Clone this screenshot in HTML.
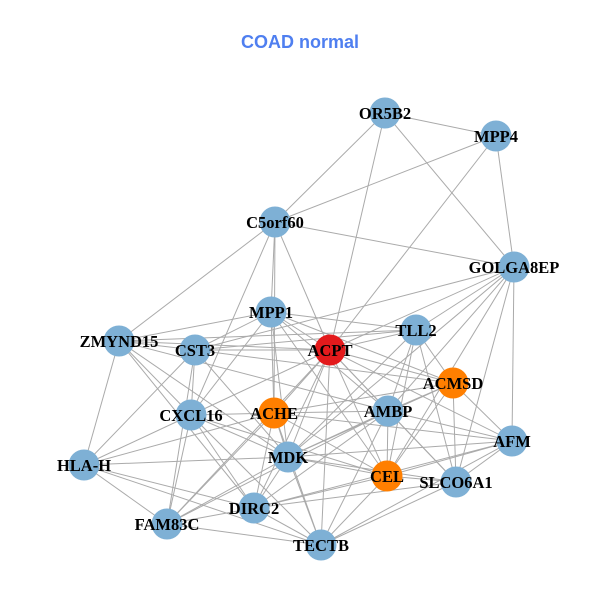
<!DOCTYPE html>
<html><head><meta charset="utf-8"><style>body{margin:0;background:#fff}svg{display:block}text.n{font-family:"Liberation Serif",serif;font-weight:bold;font-size:16.5px;text-anchor:middle}</style></head><body>
<svg width="600" height="600" xmlns="http://www.w3.org/2000/svg">
<text x="300" y="48" text-anchor="middle" font-family="Liberation Sans, sans-serif" font-weight="bold" font-size="18" fill="#4f7ff0">COAD normal</text>
<g stroke="#aaaaaa" stroke-width="1">
<line x1="385" y1="113" x2="496" y2="136"/><line x1="385" y1="113" x2="275" y2="222"/><line x1="385" y1="113" x2="330" y2="350"/><line x1="385" y1="113" x2="514" y2="267"/>
<line x1="496" y1="136" x2="275" y2="222"/><line x1="496" y1="136" x2="514" y2="267"/><line x1="496" y1="136" x2="330" y2="350"/>
<line x1="275" y1="222" x2="514" y2="267"/><line x1="275" y1="222" x2="271" y2="312"/><line x1="275" y1="222" x2="119" y2="341"/><line x1="275" y1="222" x2="330" y2="350"/><line x1="275" y1="222" x2="191" y2="415"/><line x1="275" y1="222" x2="274" y2="413"/>
<line x1="514" y1="267" x2="416" y2="330"/><line x1="514" y1="267" x2="330" y2="350"/><line x1="514" y1="267" x2="512" y2="441"/><line x1="514" y1="267" x2="456" y2="482"/><line x1="514" y1="267" x2="388" y2="411"/><line x1="514" y1="267" x2="195" y2="350"/><line x1="514" y1="267" x2="288" y2="457"/><line x1="514" y1="267" x2="387" y2="476"/>
<line x1="271" y1="312" x2="119" y2="341"/><line x1="271" y1="312" x2="195" y2="350"/><line x1="271" y1="312" x2="330" y2="350"/><line x1="271" y1="312" x2="274" y2="413"/><line x1="271" y1="312" x2="288" y2="457"/><line x1="271" y1="312" x2="191" y2="415"/><line x1="271" y1="312" x2="416" y2="330"/><line x1="271" y1="312" x2="388" y2="411"/><line x1="271" y1="312" x2="387" y2="476"/><line x1="271" y1="312" x2="453" y2="383"/>
<line x1="416" y1="330" x2="330" y2="350"/><line x1="416" y1="330" x2="453" y2="383"/><line x1="416" y1="330" x2="388" y2="411"/><line x1="416" y1="330" x2="387" y2="476"/><line x1="416" y1="330" x2="456" y2="482"/><line x1="416" y1="330" x2="195" y2="350"/><line x1="416" y1="330" x2="288" y2="457"/><line x1="416" y1="330" x2="119" y2="341"/>
<line x1="119" y1="341" x2="195" y2="350"/><line x1="119" y1="341" x2="330" y2="350"/><line x1="119" y1="341" x2="84" y2="465"/><line x1="119" y1="341" x2="191" y2="415"/><line x1="119" y1="341" x2="288" y2="457"/><line x1="119" y1="341" x2="254" y2="508"/><line x1="119" y1="341" x2="388" y2="411"/>
<line x1="195" y1="350" x2="330" y2="350"/><line x1="195" y1="350" x2="191" y2="415"/><line x1="195" y1="350" x2="84" y2="465"/><line x1="195" y1="350" x2="167" y2="524"/><line x1="195" y1="350" x2="288" y2="457"/><line x1="195" y1="350" x2="453" y2="383"/>
<line x1="330" y1="350" x2="274" y2="413"/><line x1="330" y1="350" x2="288" y2="457"/><line x1="330" y1="350" x2="388" y2="411"/><line x1="330" y1="350" x2="387" y2="476"/><line x1="330" y1="350" x2="321" y2="545"/><line x1="330" y1="350" x2="254" y2="508"/><line x1="330" y1="350" x2="167" y2="524"/><line x1="330" y1="350" x2="512" y2="441"/><line x1="330" y1="350" x2="456" y2="482"/><line x1="330" y1="350" x2="191" y2="415"/><line x1="330" y1="350" x2="453" y2="383"/>
<line x1="453" y1="383" x2="388" y2="411"/><line x1="453" y1="383" x2="512" y2="441"/><line x1="453" y1="383" x2="456" y2="482"/><line x1="453" y1="383" x2="387" y2="476"/><line x1="453" y1="383" x2="274" y2="413"/><line x1="453" y1="383" x2="288" y2="457"/>
<line x1="388" y1="411" x2="274" y2="413"/><line x1="388" y1="411" x2="288" y2="457"/><line x1="388" y1="411" x2="387" y2="476"/><line x1="388" y1="411" x2="321" y2="545"/><line x1="388" y1="411" x2="512" y2="441"/><line x1="388" y1="411" x2="254" y2="508"/><line x1="388" y1="411" x2="456" y2="482"/><line x1="388" y1="411" x2="167" y2="524"/>
<line x1="191" y1="415" x2="274" y2="413"/><line x1="191" y1="415" x2="288" y2="457"/><line x1="191" y1="415" x2="84" y2="465"/><line x1="191" y1="415" x2="167" y2="524"/><line x1="191" y1="415" x2="254" y2="508"/><line x1="191" y1="415" x2="321" y2="545"/><line x1="191" y1="415" x2="387" y2="476"/>
<line x1="274" y1="413" x2="288" y2="457"/><line x1="274" y1="413" x2="254" y2="508"/><line x1="274" y1="413" x2="167" y2="524"/><line x1="274" y1="413" x2="321" y2="545"/><line x1="274" y1="413" x2="512" y2="441"/><line x1="274" y1="413" x2="387" y2="476"/>
<line x1="512" y1="441" x2="387" y2="476"/><line x1="512" y1="441" x2="456" y2="482"/><line x1="512" y1="441" x2="288" y2="457"/><line x1="512" y1="441" x2="254" y2="508"/><line x1="512" y1="441" x2="321" y2="545"/>
<line x1="288" y1="457" x2="84" y2="465"/><line x1="288" y1="457" x2="254" y2="508"/><line x1="288" y1="457" x2="321" y2="545"/><line x1="288" y1="457" x2="387" y2="476"/><line x1="288" y1="457" x2="456" y2="482"/><line x1="288" y1="457" x2="167" y2="524"/>
<line x1="84" y1="465" x2="167" y2="524"/><line x1="84" y1="465" x2="254" y2="508"/><line x1="84" y1="465" x2="321" y2="545"/><line x1="84" y1="465" x2="274" y2="413"/>
<line x1="387" y1="476" x2="321" y2="545"/><line x1="387" y1="476" x2="254" y2="508"/><line x1="387" y1="476" x2="456" y2="482"/><line x1="456" y1="482" x2="321" y2="545"/><line x1="456" y1="482" x2="254" y2="508"/>
<line x1="254" y1="508" x2="167" y2="524"/><line x1="254" y1="508" x2="321" y2="545"/><line x1="167" y1="524" x2="321" y2="545"/>
</g>
<g fill="#7eb0d5">
<circle cx="385" cy="113" r="15.5"/><circle cx="496" cy="136" r="15.5"/><circle cx="275" cy="222" r="15.5"/><circle cx="514" cy="267" r="15.5"/><circle cx="271" cy="312" r="15.5"/><circle cx="416" cy="330" r="15.5"/><circle cx="119" cy="341" r="15.5"/><circle cx="195" cy="350" r="15.5"/><circle cx="330" cy="350" r="15.5" fill="#e31a1c"/><circle cx="453" cy="383" r="15.5" fill="#ff7f00"/><circle cx="388" cy="411" r="15.5"/><circle cx="191" cy="415" r="15.5"/><circle cx="274" cy="413" r="15.5" fill="#ff7f00"/><circle cx="512" cy="441" r="15.5"/><circle cx="288" cy="457" r="15.5"/><circle cx="84" cy="465" r="15.5"/><circle cx="387" cy="476" r="15.5" fill="#ff7f00"/><circle cx="456" cy="482" r="15.5"/><circle cx="254" cy="508" r="15.5"/><circle cx="167" cy="524" r="15.5"/><circle cx="321" cy="545" r="15.5"/>
</g>
<g>
<text class="n" x="385" y="119">OR5B2</text><text class="n" x="496" y="142">MPP4</text><text class="n" x="275" y="228">C5orf60</text><text class="n" x="514" y="273">GOLGA8EP</text><text class="n" x="271" y="318">MPP1</text><text class="n" x="416" y="336">TLL2</text><text class="n" x="119" y="347">ZMYND15</text><text class="n" x="195" y="356">CST3</text><text class="n" x="330" y="356">ACPT</text><text class="n" x="453" y="389">ACMSD</text><text class="n" x="388" y="417">AMBP</text><text class="n" x="191" y="421">CXCL16</text><text class="n" x="274" y="419">ACHE</text><text class="n" x="512" y="447">AFM</text><text class="n" x="288" y="463">MDK</text><text class="n" x="84" y="471">HLA-H</text><text class="n" x="387" y="482">CEL</text><text class="n" x="456" y="488">SLCO6A1</text><text class="n" x="254" y="514">DIRC2</text><text class="n" x="167" y="530">FAM83C</text><text class="n" x="321" y="551">TECTB</text>
</g>
</svg>
</body></html>
